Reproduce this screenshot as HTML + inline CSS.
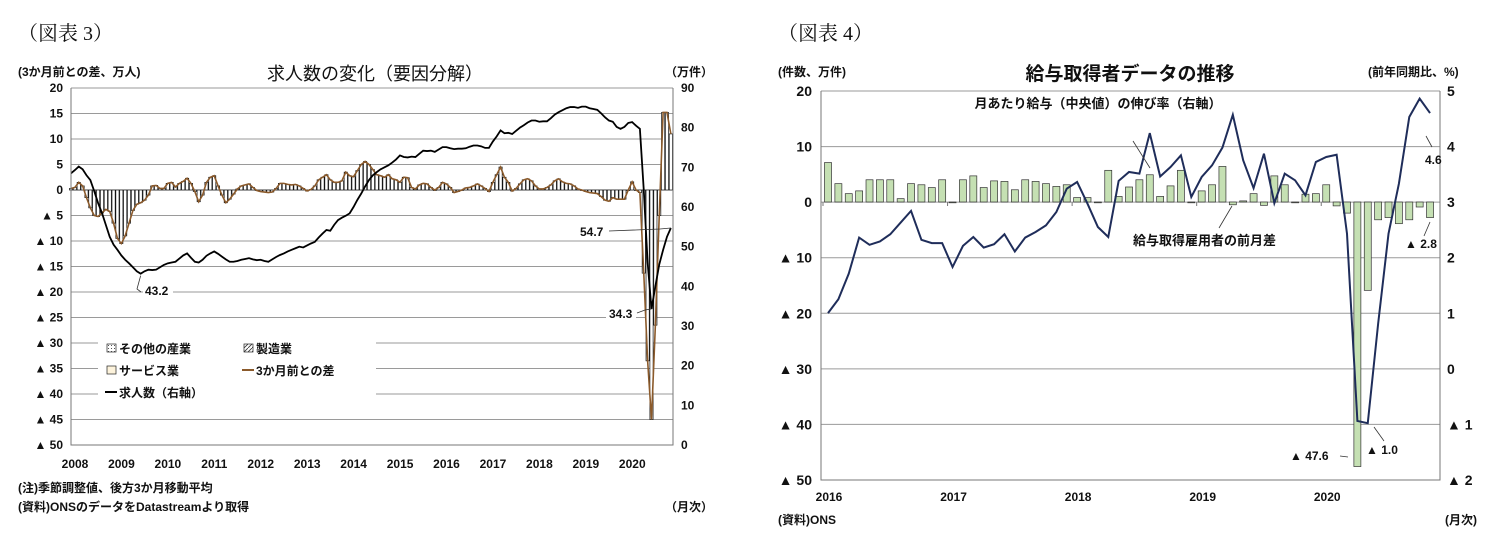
<!DOCTYPE html>
<html><head><meta charset="utf-8">
<style>
html,body{margin:0;padding:0;background:#fff;}
svg{display:block;font-family:"Liberation Sans","Noto Sans CJK JP",sans-serif;}
.t{font-size:12px;font-weight:bold;fill:#111;}
.j{font-family:"Liberation Sans","Noto Sans CJK JP",sans-serif;}
.hdr{font-family:"Liberation Serif","Noto Serif CJK SC",serif;font-size:20px;fill:#111;}
</style></head>
<body>
<svg id="svg" width="1505" height="544" viewBox="0 0 1505 544">
<defs>
<pattern id="dots" width="3" height="3" patternUnits="userSpaceOnUse"><rect width="3" height="3" fill="#fff"/><rect width="1" height="1" fill="#555"/></pattern>
<pattern id="diag" width="4" height="4" patternUnits="userSpaceOnUse"><rect width="4" height="4" fill="#fff"/><path d="M0,4L4,0" stroke="#333" stroke-width="0.8"/></pattern>
</defs>
<text class="hdr" x="18" y="40">（図表 3）</text>
<text class="hdr" x="778" y="40">（図表 4）</text>

<!-- Chart 3 static -->
<g id="c3">
<text class="t j" x="18" y="76" style="font-size:12px">(3か月前との差、万人)</text>
<text class="j" x="375" y="80" text-anchor="middle" style="font-size:18px;fill:#111">求人数の変化（要因分解）</text>
<text class="t j" x="665" y="76">（万件）</text>
<text class="t j" x="18" y="492">(注)季節調整値、後方3か月移動平均</text>
<text class="t j" x="18" y="511">(資料)ONSのデータをDatastreamより取得</text>
<text class="t j" x="665" y="511">（月次）</text>
</g>
<g id="c4">
<text class="t j" x="778" y="76">(件数、万件)</text>
<text class="j" x="1130" y="80" text-anchor="middle" style="font-size:19px;font-weight:bold;fill:#111">給与取得者データの推移</text>
<text class="t j" x="1368" y="76">(前年同期比、%)</text>
<text class="t j" x="778" y="524">(資料)ONS</text>
<text class="t j" x="1445" y="524">(月次)</text>
</g>
</svg>
<script>
// ===== Chart 3 data =====
const years3 = ["2008","2009","2010","2011","2012","2013","2014","2015","2016","2017","2018","2019","2020"];
const leftTicks3 = ["20","15","10","5","0","▲ 5","▲ 10","▲ 15","▲ 20","▲ 25","▲ 30","▲ 35","▲ 40","▲ 45","▲ 50"];
const rightTicks3 = ["90","80","70","60","50","40","30","20","10","0"];
const diff3m = [0.3,0.5,1.5,0.8,-1.5,-3.5,-5.0,-5.2,-4.5,-3.8,-4.2,-6.5,-9.5,-10.5,-9.0,-6.5,-4.0,-2.8,-2.5,-2.0,
-1.0,0.8,0.9,0.3,0.3,1.3,1.5,0.6,1.3,1.7,2.3,1.3,-0.3,-2.3,-1.0,1.5,2.5,2.8,0.8,-1.0,
-2.5,-1.8,-0.8,0.2,0.8,1.0,1.2,0.5,-0.1,-0.3,-0.4,-0.5,-0.4,0.3,1.3,1.3,1.1,1.0,1.1,0.8,
0.3,-0.2,0.1,0.8,2.0,2.5,3.0,2.0,1.5,1.5,1.8,3.5,2.8,2.6,3.8,5.0,5.6,5.0,4.0,3.0,
2.8,2.5,3.0,2.2,2.0,1.5,2.5,2.4,0.5,0.2,1.0,1.3,1.2,0.5,0.0,0.5,1.5,1.2,0.5,-0.5,
-0.3,0.0,0.4,0.5,0.8,1.2,0.8,0.3,-0.3,1.5,3.0,4.5,2.5,1.5,-0.2,0.3,1.2,2.0,2.2,1.8,
0.8,0.2,0.2,0.5,1.0,1.8,2.2,1.6,1.3,1.2,0.8,0.2,0.0,-0.3,-0.5,-0.6,-0.7,-1.3,-2.0,-2.2,
-1.5,-1.8,-1.8,-1.8,0.0,1.6,0.0,-0.5,-16.3,-33.5,-45.0,-26.5,-5.0,15.2,15.2,11.0];
const vacancies = [68.5,69.3,70.2,69.5,68.0,66.8,64.0,61.0,58.5,55.5,52.5,50.5,49.2,47.8,46.7,45.8,44.8,43.8,43.2,43.8,
44.2,44.1,44.2,44.8,45.4,45.8,46.0,46.2,47.0,47.8,48.3,47.2,46.2,46.0,46.7,47.7,48.3,48.8,48.2,47.5,
46.8,46.2,46.2,46.4,46.7,46.9,47.1,46.8,46.6,46.7,46.4,46.2,46.8,47.4,47.9,48.3,48.8,49.2,49.6,50.0,
49.8,50.3,50.8,51.2,52.3,53.3,54.2,54.0,55.5,56.7,57.3,57.8,58.4,60.0,61.8,63.4,65.2,66.8,68.0,68.8,
69.5,70.0,70.5,71.2,72.0,73.0,72.6,72.5,72.7,72.6,73.4,74.2,74.1,74.2,73.9,74.5,75.1,75.1,74.8,74.6,
74.7,74.7,74.8,75.2,75.5,75.5,75.3,74.9,74.9,76.5,77.8,79.3,78.6,78.7,78.4,79.2,80.0,80.6,81.3,81.8,
81.8,81.5,81.6,81.6,82.4,83.3,83.9,84.4,84.9,85.2,85.2,85.0,85.3,85.3,84.9,84.7,84.5,83.6,82.6,81.8,
81.5,80.2,79.7,80.2,81.2,81.4,80.5,79.7,64.3,46.0,34.3,40.0,45.5,49.2,52.5,54.7];

// ===== Chart 4 data =====
const years4 = ["2016","2017","2018","2019","2020"];
const leftTicks4 = ["20","10","0","▲ 10","▲ 20","▲ 30","▲ 40","▲ 50"];
const rightTicks4 = ["5","4","3","2","1","0","▲ 1","▲ 2"];
const payrollChange = [7.1,3.3,1.5,2.0,4.0,4.0,4.0,0.6,3.3,3.1,2.6,4.0,
0.0,4.0,4.7,2.6,3.8,3.7,2.2,4.0,3.7,3.3,2.8,3.1,
0.8,0.8,-0.1,5.7,1.0,2.7,4.0,4.9,1.0,2.9,5.7,-0.1,
2.0,3.1,6.4,-0.5,0.2,1.5,-0.6,4.7,3.1,-0.1,1.4,1.5,
3.1,-0.7,-2.0,-47.6,-15.9,-3.2,-2.8,-3.9,-3.2,-0.9,-2.8];
const payGrowth = [1.0,1.25,1.71,2.36,2.23,2.29,2.42,2.63,2.84,2.32,2.26,2.26,
1.83,2.21,2.37,2.18,2.24,2.42,2.11,2.36,2.46,2.58,2.82,3.24,
3.36,2.97,2.55,2.37,3.38,3.54,3.51,4.24,3.46,3.63,3.84,3.09,
3.45,3.66,3.98,4.57,3.75,3.25,3.87,2.98,3.51,3.39,3.12,3.72,
3.81,3.85,2.43,-0.94,-0.98,0.81,2.43,3.33,4.53,4.86,4.6];

const NS = "http://www.w3.org/2000/svg";
const svg = document.getElementById('svg');
function mk(tag, attrs, parent, txt){
  const e = document.createElementNS(NS, tag);
  for (const k in attrs) e.setAttribute(k, attrs[k]);
  if (txt !== undefined) e.textContent = txt;
  (parent||svg).appendChild(e); return e;
}
const g3 = document.getElementById('c3');
const g4 = document.getElementById('c4');

// ---- Chart 3 axes ----
const L3 = 71, R3 = 673, T3 = 88, B3 = 445;
const yL3 = v => 190 - v * (B3 - 190) / 50;
const yR3 = v => B3 - v * (B3 - T3) / 90;
const xM3 = m => L3 + m * 3.87;
leftTicks3.forEach((s, i) => {
  const y = T3 + i * (B3 - T3) / 14;
  const gl = mk('line', {x1:L3, x2:R3, y1:y, y2:y, stroke:'#9a9a9a', 'stroke-width':1}, g3);
  
  
  const t = mk('text', {x:63, y:y+4, 'text-anchor':'end', class:'t'}, g3, s);
  
  
});
rightTicks3.forEach((s, i) => {
  const y = T3 + i * (B3 - T3) / 9;
  const t = mk('text', {x:681, y:y+4, class:'t'}, g3, s);
  
  
});
years3.forEach((s, i) => {
  const t = mk('text', {x:xM3(i*12)+4, y:468, 'text-anchor':'middle', class:'t'}, g3, s);
  
  
});
// bars
diff3m.forEach((v, i) => {
  const y0 = yL3(0), y1 = yL3(v);
  const b = mk('rect', {x:xM3(i)-1.6, y:Math.min(y0,y1), width:3.2, height:Math.max(0.5,Math.abs(y1-y0)), fill:'#fff', stroke:'#111', 'stroke-width':0.7}, g3);
  
  
});
// brown line
const p3 = mk('polyline', {points: diff3m.map((v,i)=>xM3(i)+','+yL3(v)).join(' '), fill:'none', stroke:'#8b5a2b', 'stroke-width':1.6}, g3);


const v3 = mk('polyline', {points: vacancies.map((v,i)=>xM3(i)+','+yR3(v)).join(' '), fill:'none', stroke:'#000', 'stroke-width':1.8}, g3);


// frame
const f3 = mk('path', {d:`M${L3},${T3}V${B3}H${R3}V${T3}`, fill:'none', stroke:'#777', 'stroke-width':1}, g3);


// legend
const lg = mk('rect', {x:98, y:338, width:278, height:66, fill:'#fff'}, g3);


const legItems = [
  {x:107,y:353,txt:'その他の産業',k:'dots'},{x:244,y:353,txt:'製造業',k:'diag'},
  {x:107,y:375,txt:'サービス業',k:'svc'},{x:244,y:375,txt:'3か月前との差',k:'brown'},
  {x:107,y:397,txt:'求人数（右軸）',k:'black'}];
legItems.forEach(it => {
  let sw;
  if (it.k==='brown'||it.k==='black') sw = mk('line',{x1:it.x-2,x2:it.x+10,y1:it.y-5,y2:it.y-5,stroke:it.k==='brown'?'#8b5a2b':'#000','stroke-width':2},g3);
  else sw = mk('rect',{x:it.x,y:it.y-9,width:9,height:8,fill:it.k==='svc'?'#fdf3dc':'url(#'+it.k+')',stroke:'#222','stroke-width':0.7},g3);
  
  
  const t = mk('text',{x:it.x+12,y:it.y,class:'t j'},g3,it.txt);
  
  
});
// annotations chart 3
function ann(g, x, y, s, anchor, name){
  const t = mk('text',{x:x,y:y,class:'t','text-anchor':anchor||'start'},g,s);
  
  
}
function lead(g, pts){
  const l = mk('polyline',{points:pts,fill:'none',stroke:'#333','stroke-width':0.8},g);
  
  
}
const w1 = mk('rect',{x:143,y:283,width:30,height:14,fill:'#fff'},g3);


ann(g3,145,295,'43.2','start','min-label-43-2');
lead(g3,`${xM3(18)},${yR3(43.2)+2} 137,289 141,292`);
const w2 = mk('rect',{x:577,y:224,width:30,height:14,fill:'#fff'},g3);


ann(g3,580,236,'54.7','start','last-label-54-7');
lead(g3,`609,231 660,229 ${xM3(155)},${yR3(54.7)}`);
const w3 = mk('rect',{x:606,y:306,width:30,height:14,fill:'#fff'},g3);


ann(g3,609,318,'34.3','start','trough-label-34-3');
lead(g3,`637,313 645,310 ${xM3(150)},${yR3(34.3)}`);

// ---- Chart 4 axes ----
const L4 = 821, R4 = 1440, T4 = 91, B4 = 480;
const Y0 = 202, U = (B4 - T4) / 70;
const yL4 = v => Y0 - v * U;
const yR4 = v => Y0 - (v - 3) * U * 10;
const xI4 = i => 828 + i * 10.38;
leftTicks4.forEach((s, i) => {
  const y = T4 + i * (B4 - T4) / 7;
  const gl = mk('line',{x1:L4,x2:R4,y1:y,y2:y,stroke:'#9a9a9a','stroke-width':1},g4);
  
  
  const t = mk('text',{x:812,y:y+5,'text-anchor':'end',class:'t',style:'font-size:14px'},g4,s);
  
  
  const r = mk('text',{x:1447,y:y+5,class:'t',style:'font-size:14px'},g4,rightTicks4[i]);
  
  
});
years4.forEach((s, i) => {
  const t = mk('text',{x:xI4(i*12)+1,y:501,'text-anchor':'middle',class:'t'},g4,s);
  
  
  const tk = mk('line',{x1:xI4(i*12)-5,x2:xI4(i*12)-5,y1:Y0,y2:Y0+4,stroke:'#777'},g4);
  
  
});
payrollChange.forEach((v, i) => {
  const y1 = yL4(v);
  const b = mk('rect',{x:xI4(i)-3.5,y:Math.min(Y0,y1),width:7,height:Math.max(0.8,Math.abs(y1-Y0)),fill:'#c5e0b3',stroke:'#333','stroke-width':0.7},g4);
  
  
});
const p4 = mk('polyline',{points:payGrowth.map((v,i)=>xI4(i)+','+yR4(v)).join(' '),fill:'none',stroke:'#1f2d5a','stroke-width':2},g4);


const f4 = mk('path',{d:`M${L4},${T4}V${B4}H${R4}V${T4}`,fill:'none',stroke:'#777','stroke-width':1},g4);


// annotations chart 4
const a1 = mk('text',{x:1098,y:108,'text-anchor':'middle',class:'t j',style:'font-size:13px'},g4,'月あたり給与（中央値）の伸び率（右軸）');


lead(g4,'1133,141 1150,168');
const a2 = mk('text',{x:1133,y:245,class:'t j',style:'font-size:13px'},g4,'給与取得雇用者の前月差');


lead(g4,'1219,228 1232,206');
ann(g4,1405,248,'▲ 2.8','start','last-bar-label');
lead(g4,'1424,236 1430,222');
ann(g4,1425,164,'4.6','start','last-growth-label');
lead(g4,'1432,147 1426,136');
ann(g4,1290,460,'▲ 47.6','start','trough-bar-label');
lead(g4,'1340,456 1348,457');
ann(g4,1366,454,'▲ 1.0','start','trough-growth-label');
lead(g4,'1384,441 1374,427');
</script>
</body></html>
